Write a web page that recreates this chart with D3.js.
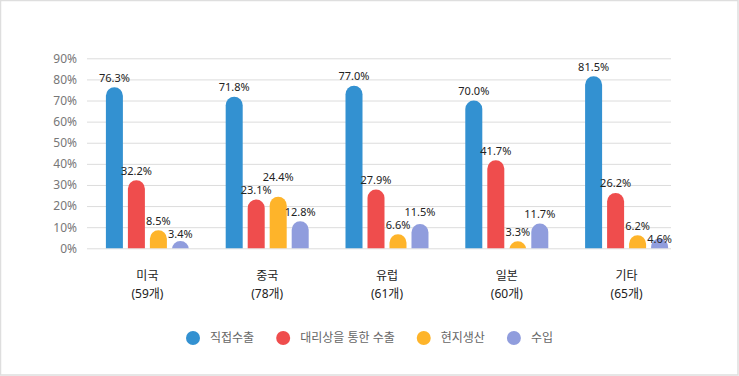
<!DOCTYPE html>
<html>
<head>
<meta charset="utf-8">
<script src="https://cdn.jsdelivr.net/npm/d3@7"></script>
<style>
  html, body { margin: 0; padding: 0; background: #fff; }
  svg { display: block; font-family: "Noto Sans", "Noto Sans CJK KR", sans-serif; }
</style>
</head>
<body>
<div id="wrapper"></div>
<script>
// data
const categories = ["미국", "중국", "유럽", "일본", "기타"]
const companyCounts = [59, 78, 61, 60, 65]
const seriesNames = ["직접수출", "대리상을 통한 수출", "현지생산", "수입"]
const directExport = [76.3, 71.8, 77.0, 70.0, 81.5]
const agentExport = [32.2, 23.1, 27.9, 41.7, 26.2]
const localProduction = [8.5, 24.4, 6.6, 3.3, 6.2]
const imports = [3.4, 12.8, 11.5, 11.7, 4.6]
const yTicks = [0, 10, 20, 30, 40, 50, 60, 70, 80, 90]
const colors = ["#3391d1", "#ef4d4d", "#feb42a", "#909ddd"]

const seriesValues = [directExport, agentExport, localProduction, imports]

const dimensions = {
  width: 739,
  height: 376,
  plotLeft: 87,
  plotRight: 671,
  top: 58.3,
  bottom: 248.3,
}

const svg = d3
  .select("#wrapper")
  .append("svg")
  .attr("width", dimensions.width)
  .attr("height", dimensions.height)

// frame
svg
  .append("rect")
  .attr("x", 0.5)
  .attr("y", 0.5)
  .attr("width", dimensions.width - 1.5)
  .attr("height", dimensions.height - 1.5)
  .attr("fill", "#fff")
  .attr("stroke", "#dedede")
  .attr("stroke-width", 1.5)

// scales
const yScale = d3
  .scaleLinear()
  .domain([0, 90])
  .range([dimensions.bottom, dimensions.top])

const xScale = d3
  .scaleBand()
  .domain(categories)
  .range([87.5, 686.5])
  .padding(0)

const groupWidth = 83
const innerScale = d3
  .scaleBand()
  .domain(d3.range(seriesNames.length))
  .range([-groupWidth / 2, groupWidth / 2])
  .paddingInner(5 / 22)

const barW = innerScale.bandwidth()

// grid + y axis
const yAxis = svg
  .append("g")
  .attr("transform", `translate(${dimensions.plotLeft},0)`)
  .call(
    d3
      .axisLeft(yScale)
      .tickValues(yTicks)
      .tickSize(-(dimensions.plotRight - dimensions.plotLeft))
      .tickPadding(10)
      .tickFormat(d => d + "%")
  )
yAxis.select(".domain").remove()
yAxis.selectAll(".tick line").attr("stroke", "#dcdcdc")
yAxis
  .selectAll(".tick text")
  .attr("fill", "#777")
  .style("font-size", "12px")
  .style("font-family", "\"Noto Sans\", sans-serif")

// bars, clipped at the zero line so the rounded tops stay round
svg
  .append("clipPath")
  .attr("id", "plotClip")
  .append("rect")
  .attr("x", 0)
  .attr("y", 0)
  .attr("width", dimensions.width)
  .attr("height", dimensions.bottom)

const rows = []
categories.forEach((cat, ci) => {
  seriesValues.forEach((vals, si) => {
    rows.push({ cat, ci, si, value: vals[ci] })
  })
})

const barX = d => xScale(d.cat) + xScale.bandwidth() / 2 + innerScale(d.si)

svg
  .append("g")
  .attr("clip-path", "url(#plotClip)")
  .selectAll("rect")
  .data(rows)
  .join("rect")
  .attr("x", barX)
  .attr("y", d => yScale(d.value))
  .attr("width", barW)
  .attr("height", d => dimensions.bottom - yScale(d.value) + barW)
  .attr("rx", barW / 2)
  .attr("fill", d => colors[d.si])

// value labels, nudged apart when neighbours collide
const labels = svg
  .append("g")
  .selectAll("text")
  .data(rows)
  .join("text")
  .attr("text-anchor", "middle")
  .attr("fill", "#222")
  .style("font-size", "11px")
  .text(d => d.value.toFixed(1) + "%")
  .attr("x", d => barX(d) + barW / 2)

const sep = 13
labels.each(function (d) {
  d.w = this.getComputedTextLength()
  d.cx = barX(d) + barW / 2
})
categories.forEach((cat, ci) => {
  const placed = []
  rows
    .filter(r => r.ci === ci)
    .forEach(r => {
      let b = yScale(r.value) - 5.5
      placed.forEach(p => {
        const hOverlap = Math.abs(r.cx - p.cx) < (r.w + p.w) / 2
        if (hOverlap && Math.abs(b - p.b) < sep) {
          b = r.value > p.value ? p.b - sep : p.b + sep
        }
      })
      r.b = b
      placed.push(r)
    })
})
labels.attr("y", d => d.b)

// category labels
const catLabels = svg
  .append("g")
  .selectAll("g")
  .data(categories)
  .join("g")
  .attr("transform", d => `translate(${xScale(d) + xScale.bandwidth() / 2},0)`)
catLabels
  .append("text")
  .attr("text-anchor", "middle")
  .attr("y", 280)
  .attr("fill", "#222")
  .style("font-size", "12px")
  .text(d => d)
catLabels
  .append("text")
  .attr("text-anchor", "middle")
  .attr("y", 298)
  .attr("fill", "#222")
  .style("font-size", "12px")
  .text((d, i) => `(${companyCounts[i]}개)`)

// legend
const legend = svg.append("g")
const items = legend
  .selectAll("g")
  .data(seriesNames)
  .join("g")
items
  .append("circle")
  .attr("cx", 7)
  .attr("cy", 0)
  .attr("r", 7)
  .attr("fill", (d, i) => colors[i])
items
  .append("text")
  .attr("x", 24)
  .attr("dy", "0.35em")
  .attr("fill", "#666")
  .style("font-size", "12px")
  .text(d => d)

let offset = 0
items.each(function () {
  const w = 24 + d3.select(this).select("text").node().getComputedTextLength()
  d3.select(this).attr("transform", `translate(${offset},338)`)
  offset += w + 22
})
const legendWidth = offset - 22
legend.attr("transform", `translate(${(dimensions.width - legendWidth) / 2},0)`)
</script>
</body>
</html>
